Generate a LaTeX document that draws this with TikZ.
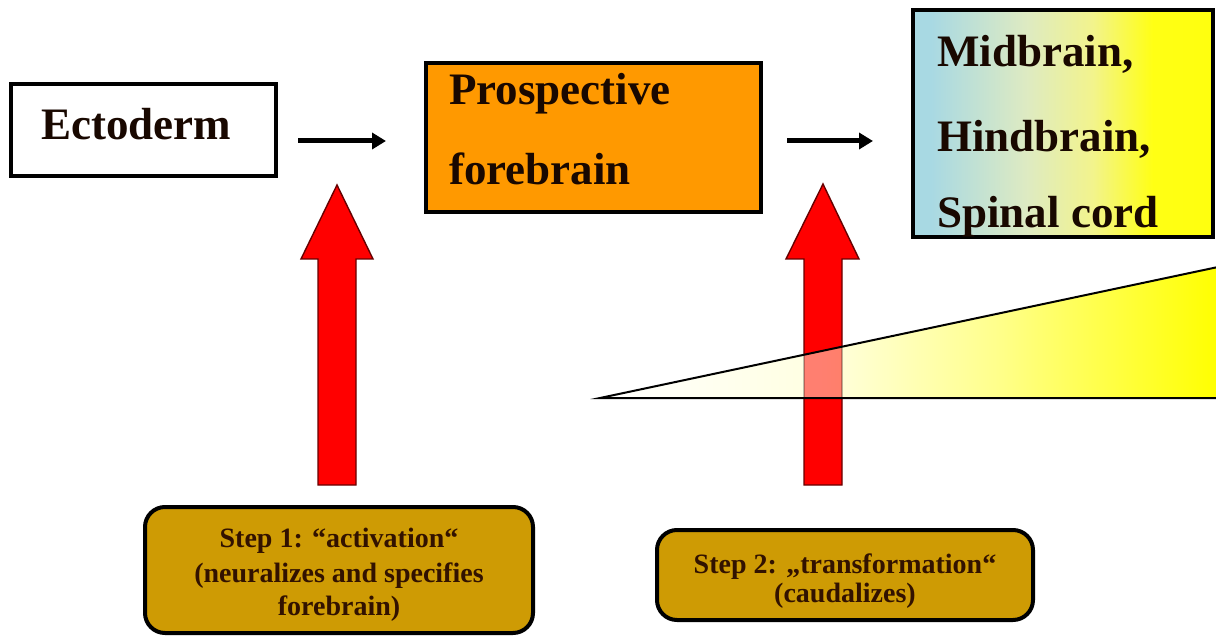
\documentclass[tikz,border=0pt]{standalone}
\usepackage{fontspec}
\setmainfont{Liberation Serif}
\usetikzlibrary{arrows.meta}
\definecolor{txtdark}{RGB}{25,8,0}
\definecolor{steptxt}{RGB}{50,18,0}
\definecolor{orangefill}{RGB}{255,153,0}
\definecolor{stepfill}{RGB}{206,155,4}
\definecolor{arrowred}{RGB}{255,0,0}
\pgfdeclarehorizontalshading{wedgeshade}{100bp}{%
  rgb(0bp)=(1,1,1); rgb(25bp)=(1,1,1); rgb(43bp)=(1,1,0.88);
  rgb(57bp)=(1,1,0.55); rgb(75bp)=(1,1,0); rgb(100bp)=(1,1,0)}
\pgfdeclarehorizontalshading{midshade}{100bp}{%
  rgb(0bp)=(0.66,0.85,0.89); rgb(28bp)=(0.66,0.85,0.89); rgb(44bp)=(0.87,0.92,0.76);
  rgb(55bp)=(0.95,0.955,0.55); rgb(65bp)=(1,1,0.08); rgb(100bp)=(1,1,0)}
\begin{document}
\begin{tikzpicture}[x=1pt,y=-1pt,
  bigtxt/.style={font=\fontsize{45}{54}\selectfont\bfseries, text=txtdark, inner sep=0pt},
  smalltxt/.style={font=\fontsize{28}{34}\selectfont\bfseries, text=steptxt, inner sep=0pt},
  boxstyle/.style={draw=black, line width=4.5pt, inner sep=0pt, rectangle},
  stepbox/.style={draw=black, line width=4pt, fill=stepfill, rounded corners=20pt, inner sep=0pt, rectangle},
  blackarrow/.style={line width=5pt, -{Triangle[length=14pt,width=16pt]}},
  redarrow/.style={fill=arrowred, draw=black!60!arrowred, line width=1.4pt, line join=miter}
]
\useasboundingbox (0,0) rectangle (1216,639);

% boxes
\node[boxstyle, fill=white, minimum width=265pt, minimum height=92pt] (ecto) at (143.5,130) {};
\node[boxstyle, fill=orangefill, minimum width=335pt, minimum height=149pt] (fore) at (593.5,137.5) {};
\node[boxstyle, shading=midshade, shading angle=0, minimum width=300pt, minimum height=227pt] (mid) at (1063,123.5) {};

% texts
\node[bigtxt, anchor=base west] (tEcto) at (41,140) {Ectoderm};
\node[bigtxt, anchor=base west] (tFore1) at (449,105) {Prospective};
\node[bigtxt, anchor=base west] (tFore2) at (449,185) {forebrain};
\node[bigtxt, anchor=base west] (tMid1) at (937,67) {Midbrain,};
\node[bigtxt, anchor=base west] (tMid2) at (937,152) {Hindbrain,};
\node[bigtxt, anchor=base west] (tMid3) at (937,228) {Spinal cord};

% black arrows
\coordinate (a1s) at (298,141);
\coordinate (a1e) at (386,141);
\coordinate (a2s) at (787,141);
\coordinate (a2e) at (873,141);
\draw[blackarrow] (a1s) -- (a1e);
\draw[blackarrow] (a2s) -- (a2e);

% red arrows
\path[redarrow] (337,185) -- (373,259) -- (356,259) -- (356,485) -- (318,485) -- (318,259) -- (301,259) -- cycle;
\path[redarrow] (823,184) -- (859,259) -- (842,259) -- (842,485) -- (804,485) -- (804,259) -- (786,259) -- cycle;

% gradient wedge
\shade[shading=wedgeshade, shading angle=0] (600,398) -- (1218,267) -- (1218,398) -- cycle;
\begin{scope}
  \clip (600,398) -- (1218,267) -- (1218,398) -- cycle;
  \path[fill=arrowred, fill opacity=0.5, draw=black, draw opacity=0.4, line width=1.4pt] (823,184) -- (859,259) -- (842,259) -- (842,485) -- (804,485) -- (804,259) -- (786,259) -- cycle;
\end{scope}
\draw[line width=2pt, line join=miter] (1218,398) -- (600,398) -- (1218,267);

% step boxes
\node[stepbox, minimum width=388pt, minimum height=126pt] (step1) at (339,570) {};
\node[smalltxt, anchor=base] (s1a) at (339,547) {Step 1: “activation“};
\node[smalltxt, anchor=base] (s1b) at (339,582) {(neuralizes and specifies};
\node[smalltxt, anchor=base] (s1c) at (339,615) {forebrain)};

\node[stepbox, minimum width=376pt, minimum height=90pt] (step2) at (845,575) {};
\node[smalltxt, anchor=base] (s2a) at (845,573) {Step 2: „transformation“};
\node[smalltxt, anchor=base] (s2b) at (845,602) {(caudalizes)};
\end{tikzpicture}
\end{document}
